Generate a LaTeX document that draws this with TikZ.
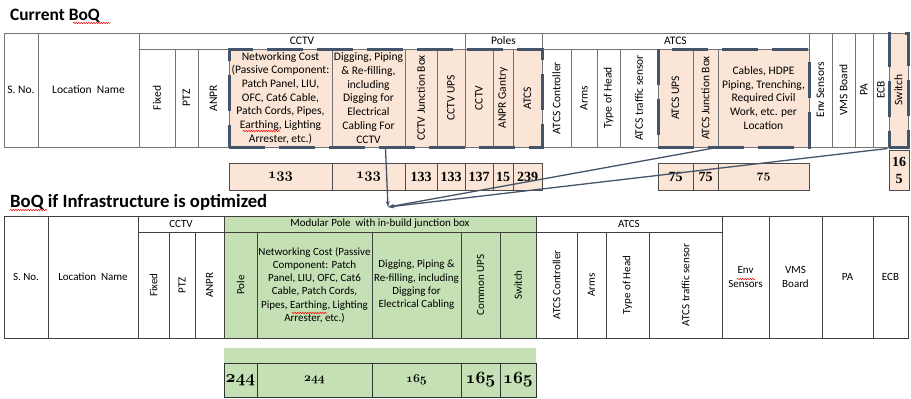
\documentclass[tikz,border=0pt]{standalone}
\usepackage{fontspec}
\newfontfamily\calibri{Carlito}
\newfontfamily\numfont{Liberation Serif}
\usetikzlibrary{arrows.meta,decorations.pathmorphing}
\definecolor{peach}{HTML}{FBE5D6}
\definecolor{leaf}{HTML}{C5E0B4}
\definecolor{slate}{HTML}{44546A}
\newcommand{\osn}[1]{$\mathnormal{#1}$}

\begin{document}
\begin{tikzpicture}[x=1pt,y=-1pt,
    tcell/.style={draw=black!55,line width=0.7pt,inner sep=0pt,align=center,font=\calibri\fontsize{11.5}{13.7}\selectfont},
    bcell/.style={draw=black!75,line width=1pt,inner sep=0pt,align=center,font=\calibri\fontsize{11}{13.3}\selectfont},
    hot/.style={fill=peach},
    opt/.style={fill=leaf},
    num/.style={draw=black!70,line width=0.8pt,fill=peach,inner sep=0pt,align=center},
    bnum/.style={draw=black!80,line width=1pt,fill=leaf,inner sep=0pt},
    lnum/.style={font=\numfont\bfseries\fontsize{14}{17}\selectfont},
    onum/.style={font=\fontsize{#1}{#1}\selectfont\boldmath},
    group/.style={draw=slate,line width=3pt,dash pattern=on 36pt off 14pt,inner sep=0pt},
    link/.style={draw=slate,line width=1.3pt,-{Stealth[length=6pt,width=4pt]}},
    title/.style={anchor=base west,inner sep=0pt,font=\calibri\bfseries\fontsize{#1}{20}\selectfont},
    squiggle/.style={red,line width=0.5pt,decorate,decoration={snake,amplitude=0.7pt,segment length=2.5pt}}
  ]
  \useasboundingbox (0,0) rectangle (911,399);

  % current BoQ
  \node[title=17.4] (cur) at (10,20) {Current BoQ};
  \node[tcell,minimum width=34,minimum height=114] (sno) at (21,90) {S. No.};
  \node[tcell,minimum width=101,minimum height=114] (loc) at (88.5,90) {Location~ Name};
  \node[tcell,minimum width=326,minimum height=16] (cctv) at (302,41) {CCTV};
  \node[tcell,minimum width=77,minimum height=16] (poles) at (503.5,41) {Poles};
  \node[tcell,minimum width=267,minimum height=16] (atcs) at (675.5,41) {ATCS};
  \node[tcell,rotate=90,minimum width=98,minimum height=36] (fixed) at (157,98) {Fixed};
  \node[tcell,rotate=90,minimum width=98,minimum height=23] (ptz) at (186.5,98) {PTZ};
  \node[tcell,rotate=90,minimum width=98,minimum height=31] (anpr) at (213.5,98) {ANPR};
  \node[tcell,hot,minimum width=103,minimum height=98] (net) at (280.5,98)
    {Networking Cost\\(Passive Component:\\Patch Panel, LIU,\\OFC, Cat6 Cable,\\Patch Cords, Pipes,\\Earthing, Lighting\\Arrester, etc.)};
  \node[tcell,hot,minimum width=73,minimum height=98] (dig) at (368.5,98)
    {Digging, Piping\\\& Re-filling,\\including\\Digging for\\Electrical\\Cabling For\\CCTV};
  \node[tcell,hot,rotate=90,minimum width=98,minimum height=32] (cjb) at (421,98) {CCTV Junction Box};
  \node[tcell,hot,rotate=90,minimum width=98,minimum height=28] (cups) at (451,98) {CCTV UPS};
  \node[tcell,hot,rotate=90,minimum width=98,minimum height=28] (pcctv) at (479,98) {CCTV};
  \node[tcell,hot,rotate=90,minimum width=98,minimum height=20] (gantry) at (503,98) {ANPR Gantry};
  \node[tcell,hot,rotate=90,minimum width=98,minimum height=29] (patcs) at (527.5,98) {ATCS};
  \node[tcell,rotate=90,minimum width=98,minimum height=29] (actrl) at (556.5,98) {ATCS Controller};
  \node[tcell,rotate=90,minimum width=98,minimum height=26] (arms) at (584,98) {Arms};
  \node[tcell,rotate=90,minimum width=98,minimum height=23] (head) at (608.5,98) {Type of Head};
  \node[tcell,rotate=90,minimum width=98,minimum height=38] (tsens) at (639,98) {ATCS traffic sensor};
  \node[tcell,hot,rotate=90,minimum width=98,minimum height=35] (aups) at (675.5,98) {ATCS UPS};
  \node[tcell,hot,rotate=90,minimum width=98,minimum height=25] (ajb) at (705.5,98) {ATCS Junction Box};
  \node[tcell,hot,minimum width=91,minimum height=98] (cables) at (763.5,98)
    {Cables, HDPE\\Piping, Trenching,\\Required Civil\\Work, etc. per\\Location};
  \node[tcell,rotate=90,minimum width=114,minimum height=23] (env) at (820.5,90) {Env Sensors};
  \node[tcell,rotate=90,minimum width=114,minimum height=23] (vms) at (843.5,90) {VMS Board};
  \node[tcell,rotate=90,minimum width=114,minimum height=18] (pa) at (864,90) {PA};
  \node[tcell,rotate=90,minimum width=114,minimum height=16] (ecb) at (881,90) {ECB};
  \node[tcell,hot,rotate=90,minimum width=114,minimum height=19] (sw) at (898.5,90) {Switch};

  % cost row
  \node[num,onum=14.4,minimum width=103,minimum height=27] (n1) at (280.5,176.5) {\osn{133}};
  \node[num,onum=14.4,minimum width=73,minimum height=27] (n2) at (368.5,176.5) {\osn{133}};
  \node[num,lnum,minimum width=32,minimum height=27] (n3) at (421,176.5) {133};
  \node[num,lnum,minimum width=28,minimum height=27] (n4) at (451,176.5) {133};
  \node[num,lnum,minimum width=28,minimum height=27] (n5) at (479,176.5) {137};
  \node[num,lnum,minimum width=20,minimum height=27] (n6) at (503,176.5) {15};
  \node[num,lnum,minimum width=29,minimum height=27] (n7) at (527.5,176.5) {239};
  \node[num,lnum,minimum width=35,minimum height=27] (n8) at (675.5,176.5) {75};
  \node[num,lnum,minimum width=25,minimum height=27] (n9) at (705.5,176.5) {75};
  \node[num,onum=12,minimum width=91,minimum height=27] (n10) at (763.5,176.5) {\osn{75}};
  \node[num,lnum,minimum width=20,minimum height=40] (n11) at (899,170) {16\\5};

  % selections
  \node[group,minimum width=313,minimum height=98] (grpA) at (385.5,98) {};
  \node[group,minimum width=151,minimum height=98] (grpB) at (733.5,98) {};
  \node[group,minimum width=19,minimum height=114] (grpC) at (898.5,90) {};

  % optimized BoQ
  \node[title=18.7] (title2) at (10,207) {BoQ if Infrastructure is optimized};
  \node[bcell,minimum width=44,minimum height=122] (bsno) at (26,277) {S. No.};
  \node[bcell,minimum width=90,minimum height=122] (bloc) at (93,277) {Location~ Name};
  \node[bcell,minimum width=86,minimum height=16] (bcctv) at (181,224) {CCTV};
  \node[bcell,opt,minimum width=312,minimum height=16] (bmod) at (380,224) {Modular Pole~ with in-build junction box};
  \node[bcell,minimum width=186,minimum height=16] (batcs) at (629,224) {ATCS};
  \node[bcell,rotate=90,minimum width=106,minimum height=31] (bfixed) at (153.5,285) {Fixed};
  \node[bcell,rotate=90,minimum width=106,minimum height=26] (bptz) at (182,285) {PTZ};
  \node[bcell,rotate=90,minimum width=106,minimum height=29] (banpr) at (209.5,285) {ANPR};
  \node[bcell,opt,rotate=90,minimum width=106,minimum height=33] (bpole) at (240.5,285) {Pole};
  \node[bcell,opt,minimum width=115,minimum height=106] (bnet) at (314.5,285)
    {Networking Cost (Passive\\Component: Patch\\Panel, LIU, OFC, Cat6\\Cable, Patch Cords,\\Pipes, Earthing, Lighting\\Arrester, etc.)};
  \node[bcell,opt,minimum width=89,minimum height=106] (bdig) at (416.5,285)
    {Digging, Piping \&\\Re-filling, including\\Digging for\\Electrical Cabling};
  \node[bcell,opt,rotate=90,minimum width=106,minimum height=39] (bups) at (480.5,285) {Common UPS};
  \node[bcell,opt,rotate=90,minimum width=106,minimum height=36] (bsw) at (518,285) {Switch};
  \node[bcell,rotate=90,minimum width=106,minimum height=41] (bactrl) at (556.5,285) {ATCS Controller};
  \node[bcell,rotate=90,minimum width=106,minimum height=29] (barms) at (591.5,285) {Arms};
  \node[bcell,rotate=90,minimum width=106,minimum height=43] (bhead) at (627.5,285) {Type of Head};
  \node[bcell,rotate=90,minimum width=106,minimum height=73] (btsens) at (685.5,285) {ATCS traffic sensor};
  \node[bcell,minimum width=47,minimum height=122] (benv) at (745.5,277) {Env\\Sensors};
  \node[bcell,minimum width=53,minimum height=122] (bvms) at (795.5,277) {VMS\\Board};
  \node[bcell,minimum width=51,minimum height=122] (bpa) at (847.5,277) {PA};
  \node[bcell,minimum width=35,minimum height=122] (becb) at (890.5,277) {ECB};

  \node[fill=leaf,inner sep=0pt,minimum width=312,minimum height=15] (band) at (380,355.5) {};
  \node[bnum,onum=16,minimum width=33,minimum height=34] (m1) at (240.5,380) {\osn{244}};
  \node[bnum,onum=12,minimum width=115,minimum height=34] (m2) at (314.5,380) {\osn{244}};
  \node[bnum,onum=12,minimum width=89,minimum height=34] (m3) at (416.5,380) {\osn{165}};
  \node[bnum,onum=16,minimum width=39,minimum height=34] (m4) at (480.5,380) {\osn{165}};
  \node[bnum,onum=16,minimum width=36,minimum height=34] (m5) at (518,380) {\osn{165}};

  % moves
  \coordinate (tip) at (388,207);
  \draw[link] (grpA.south) -- (tip);
  \draw[link] (cables.south west) -- (tip);
  \draw[link] (grpC.south west) -- (tip);

  % spell check marks
  \draw[squiggle] (73,23) -- (110,23);
  \draw[squiggle] (10,210) -- (47,210);
  \draw[squiggle] (243,131) -- (280,131);
  \draw[squiggle] (292,313) -- (327,313);
  \draw[squiggle] (737,279) -- (755,279);
\end{tikzpicture}
\end{document}
